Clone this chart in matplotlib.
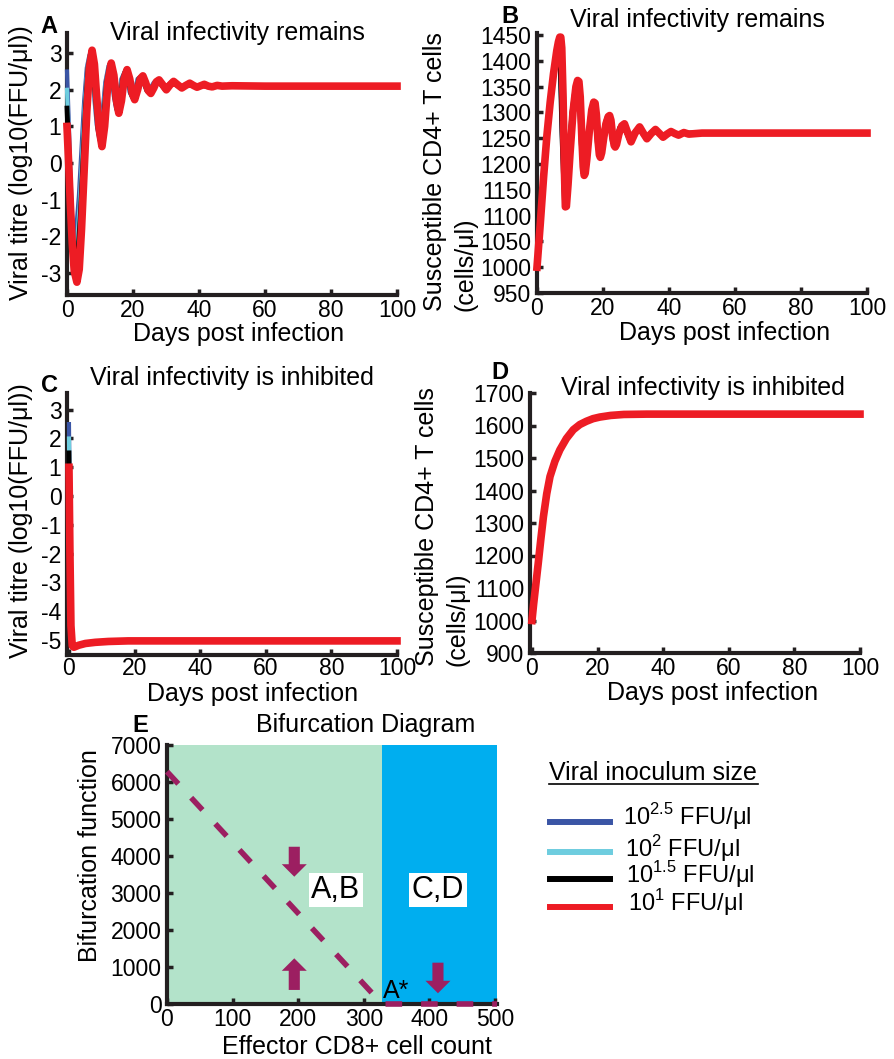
import matplotlib
matplotlib.use("Agg")
import matplotlib.pyplot as plt
from matplotlib.lines import Line2D

plt.rcParams['font.family'] = ['Liberation Sans', 'DejaVu Sans']
plt.rcParams['mathtext.fontset'] = 'custom'
plt.rcParams['mathtext.rm'] = 'Liberation Sans'
plt.rcParams['axes.unicode_minus'] = False

# ---- data ----
# panel A: viral titre, infectivity remains (log10 FFU/ul)
a_red_t = [0, 0.5, 1.0, 1.6, 2.2, 3.0, 3.7, 4.4, 5.2, 6.0, 6.8, 7.6, 8.3, 9.0, 9.8, 10.6, 11.4, 12.4,
           13.4, 14.2, 15.0, 15.7, 16.5, 17.3, 18.2, 19.0, 19.8, 20.5, 21.4, 22.2, 23.0, 23.8, 24.6,
           25.4, 26.3, 27.1, 27.9, 28.9, 30.1, 31.2, 32.3, 33.5, 34.8, 36.0, 37.2, 38.3, 39.4, 40.5,
           41.6, 42.8, 44.0, 45.5, 47, 50, 60, 100]
a_red_y = [1.0, 0.0, -1.1, -2.2, -2.95, -3.25, -2.9, -1.8, -0.2, 1.4, 2.6, 3.08, 2.7, 1.8, 0.9, 0.45,
           1.0, 2.2, 2.73, 2.4, 1.7, 1.36, 1.7, 2.3, 2.55, 2.3, 1.9, 1.73, 2.0, 2.3, 2.38, 2.2, 1.98,
           1.9, 2.05, 2.22, 2.27, 2.15, 2.0, 2.13, 2.23, 2.14, 2.05, 2.12, 2.18, 2.12, 2.07, 2.11,
           2.15, 2.1, 2.08, 2.12, 2.1, 2.11, 2.1, 2.1]
a_black_t = [0, 0.5, 1.0, 1.6, 2.2, 2.7, 3.3, 4.0, 4.8, 5.6, 6.4, 7.2, 7.9, 8.6, 9.4, 10.2, 11.0,
             12.0, 13.0, 13.8, 14.6, 15.3, 16.1, 16.9, 17.8, 18.6, 19.4, 20.1, 21.0, 21.8, 22.6,
             23.4, 24.2, 25.0, 25.9, 26.7, 27.5, 28.5, 29.7, 30.8, 31.9, 33.1, 34.4, 35.6, 36.8,
             37.9, 39.0, 40.1, 41.2, 43, 46, 60, 100]
a_black_y = [1.5, 0.4, -0.8, -2.0, -2.7, -2.85, -2.5, -1.5, 0.0, 1.5, 2.6, 3.0, 2.6, 1.8, 0.95, 0.55,
             1.1, 2.2, 2.7, 2.4, 1.75, 1.4, 1.75, 2.3, 2.53, 2.3, 1.9, 1.76, 2.0, 2.3, 2.37, 2.2,
             1.98, 1.92, 2.05, 2.2, 2.26, 2.15, 2.01, 2.13, 2.22, 2.14, 2.06, 2.12, 2.17, 2.12,
             2.08, 2.11, 2.14, 2.1, 2.11, 2.1, 2.1]
a_cyan_t = [0, 0.5, 1.0, 1.6, 2.1, 2.5, 3.1, 3.8, 4.6, 5.4, 6.2, 7.0, 7.7, 8.4, 9.2, 10.0, 10.8, 11.8,
            12.8, 13.6, 14.4, 15.1, 15.9, 16.7, 17.6, 18.4, 19.2, 19.9, 20.8, 21.6, 22.4, 23.2,
            24.0, 24.8, 25.7, 26.5, 27.3, 28.3, 29.5, 30.6, 31.7, 32.9, 34.2, 35.4, 36.6, 38, 40,
            45, 60, 100]
a_cyan_y = [2.0, 0.8, -0.5, -1.8, -2.35, -2.45, -2.1, -1.2, 0.2, 1.6, 2.6, 2.98, 2.6, 1.8, 1.0, 0.6,
            1.15, 2.2, 2.68, 2.4, 1.8, 1.45, 1.8, 2.3, 2.5, 2.3, 1.92, 1.78, 2.0, 2.3, 2.36, 2.2,
            1.99, 1.93, 2.05, 2.2, 2.25, 2.15, 2.02, 2.13, 2.21, 2.14, 2.06, 2.12, 2.17, 2.11,
            2.1, 2.11, 2.1, 2.1]
a_blue_t = [0, 0.5, 1.0, 1.5, 2.0, 2.3, 2.9, 3.6, 4.4, 5.2, 6.0, 6.8, 7.5, 8.2, 9.0, 9.8, 10.6, 11.6,
            12.6, 13.4, 14.2, 14.9, 15.7, 16.5, 17.4, 18.2, 19.0, 19.7, 20.6, 21.4, 22.2, 23.0,
            24.6, 26.3, 28.1, 30.4, 32.7, 35.2, 37.6, 40, 45, 60, 100]
a_blue_y = [2.5, 1.2, -0.2, -1.4, -1.95, -2.05, -1.7, -0.9, 0.4, 1.7, 2.6, 2.95, 2.6, 1.85, 1.05, 0.65,
            1.2, 2.2, 2.66, 2.4, 1.82, 1.48, 1.8, 2.3, 2.48, 2.3, 1.93, 1.8, 2.0, 2.3, 2.35, 2.2,
            1.94, 2.2, 2.24, 2.03, 2.21, 2.06, 2.16, 2.1, 2.11, 2.1, 2.1]

# panel B: susceptible CD4+ T cells, infectivity remains (cells/ul)
b_red_t = [0, 1, 2, 3, 4, 5, 6, 6.5, 6.9, 7.2, 7.5, 7.9, 8.3, 8.6, 8.9, 9.4, 10.0, 10.9, 11.8, 12.3,
           12.7, 13.1, 13.6, 14.0, 14.3, 14.6, 15.1, 15.8, 16.6, 17.2, 17.6, 18.0, 18.5, 18.9, 19.2,
           19.6, 20.2, 20.9, 21.6, 22.0, 22.4, 22.9, 23.4, 23.7, 24.1, 24.8, 25.7, 26.5, 27.4,
           28.5, 29.7, 31.1, 32.2, 33.3, 34.6, 35.9, 37.0, 38.2, 39.4, 40.6, 41.8, 42.9, 44.5,
           46, 50, 60, 100]
b_red_y = [1000, 1085, 1175, 1255, 1320, 1375, 1420, 1437, 1446, 1446, 1425, 1330, 1190, 1117, 1118,
           1160, 1220, 1300, 1350, 1362, 1360, 1330, 1250, 1195, 1178, 1182, 1210, 1260, 1305, 1320,
           1318, 1295, 1245, 1218, 1213, 1222, 1250, 1278, 1292, 1294, 1285, 1255, 1236, 1233,
           1238, 1258, 1274, 1278, 1262, 1243, 1260, 1272, 1260, 1249, 1259, 1267, 1260, 1252,
           1258, 1263, 1259, 1256, 1261, 1258, 1260, 1260, 1260]
b_black_t = [0, 1, 2, 3, 4, 5, 6, 6.6, 7.0, 7.6, 8.3, 8.9, 9.7, 10.6, 11.5, 12.3, 12.9, 13.4, 14.0,
             14.7, 15.5, 16.3, 17.2, 17.8, 18.3, 18.9, 19.6, 20.4, 21.1, 21.7, 22.3, 22.8, 23.4,
             24.1, 25.0, 26.2, 27.1, 28.2, 29.4, 30.8, 31.9, 33.0, 34.3, 35.6, 36.7, 37.9, 39.1,
             40.3, 42, 45, 60, 100]
b_black_y = [1000, 1090, 1180, 1260, 1322, 1372, 1405, 1418, 1400, 1250, 1130, 1150, 1225, 1300,
             1345, 1355, 1315, 1240, 1185, 1200, 1252, 1300, 1317, 1288, 1240, 1216, 1232, 1270,
             1289, 1292, 1273, 1245, 1235, 1246, 1270, 1276, 1261, 1244, 1260, 1271, 1260, 1250,
             1259, 1266, 1260, 1253, 1258, 1262, 1258, 1260, 1260, 1260]

# panel C: viral titre, infectivity inhibited
c_red_t = [0, 0.3, 0.6, 1.0, 1.5, 3, 5, 8, 12, 18, 30, 100]
c_red_y = [1.0, -2.0, -4.5, -5.2, -5.25, -5.18, -5.12, -5.08, -5.05, -5.03, -5.03, -5.03]
c_black_t = [0, 0.3, 0.6, 1.0, 1.5, 3, 5, 8, 12, 18, 30, 100]
c_black_y = [1.5, -1.7, -4.4, -5.2, -5.25, -5.18, -5.12, -5.08, -5.05, -5.03, -5.03, -5.03]
c_cyan_t = [0, 0.3, 0.6, 1.0, 1.5, 3, 5, 8, 12, 18, 30, 100]
c_cyan_y = [2.0, -1.4, -4.3, -5.2, -5.25, -5.18, -5.12, -5.08, -5.05, -5.03, -5.03, -5.03]
c_blue_t = [0, 0.3, 0.6, 1.0, 1.5, 3, 5, 8, 12, 18, 30, 100]
c_blue_y = [2.5, -1.1, -4.2, -5.2, -5.25, -5.18, -5.12, -5.08, -5.05, -5.03, -5.03, -5.03]

# panel D: susceptible CD4+ T cells, infectivity inhibited
d_t = [0, 0.5, 1, 1.9, 2.7, 3.5, 4.5, 5.5, 7, 8.5, 10.5, 12.6, 14.6, 16.6, 18.6, 20.7, 24, 28, 35, 100]
d_y = [1000, 1050, 1095, 1175, 1250, 1320, 1390, 1443, 1490, 1525, 1560, 1587, 1603, 1613, 1621,
       1626, 1631, 1634, 1635, 1635]

# panel E: bifurcation diagram
e_boundary = 327
e_xmax = 503
e_line_x = [0, 328, 503]
e_line_y = [6280, 0, 0]
e_arrows = [(194, 4250, 3440), (194, 380, 1235), (413, 1117, 290)]  # x, start, tip

series_labels = ['10$^{2.5}$ FFU/μl', '10$^{2}$ FFU/μl', '10$^{1.5}$ FFU/μl', '10$^{1}$ FFU/μl']
series_colors = ['#3a55a5', '#6ecddf', '#000000', '#ed1c24']
series_lw = [3, 3, 3.5, 5.5]
days_ticks = [0, 20, 40, 60, 80, 100]

W, H = 895, 1059


def box(l, t, r, b):
    return [l / W, 1 - b / H, (r - l) / W, (b - t) / H]


def put(x, y, s, **kw):
    fig.text(x / W, 1 - y / H, s, **kw)


def style(ax, xpad=3):
    for s in ['top', 'right']:
        ax.spines[s].set_visible(False)
    for s in ['left', 'bottom']:
        ax.spines[s].set_linewidth(3)
        ax.spines[s].set_color('#231f20')
    ax.tick_params(direction='in', length=4, width=2.5, labelsize=16.5, color='#231f20')
    ax.tick_params(axis='y', pad=4)
    ax.tick_params(axis='x', pad=xpad)


fig = plt.figure(figsize=(W / 100, H / 100), dpi=100)

# ---- A ----
axA = fig.add_axes(box(67, 33, 397, 295))
style(axA)
for t, y, c, lw in zip([a_blue_t, a_cyan_t, a_black_t, a_red_t], [a_blue_y, a_cyan_y, a_black_y, a_red_y],
                       series_colors, series_lw):
    axA.plot(t, y, color=c, lw=lw, clip_on=False, zorder=3, solid_joinstyle='round')
axA.set_xlim(0, 100)
axA.set_ylim(-3.6, 3.55)
axA.set_xticks(days_ticks)
axA.set_yticks(range(-3, 4))

# ---- B ----
axB = fig.add_axes(box(537, 33, 867, 293))
style(axB)
for t, y, c, lw in zip([b_black_t, b_black_t, b_black_t, b_red_t], [b_black_y, b_black_y, b_black_y, b_red_y],
                       series_colors, series_lw):
    axB.plot(t, y, color=c, lw=lw, clip_on=False, zorder=3, solid_joinstyle='round')
axB.set_xlim(0, 100)
axB.set_ylim(950, 1454)
axB.set_xticks(days_ticks)
axB.set_yticks(range(950, 1451, 50))

# ---- C ----
axC = fig.add_axes(box(67, 393, 397, 655))
style(axC, xpad=1.5)
for t, y, c, lw in zip([c_blue_t, c_cyan_t, c_black_t, c_red_t], [c_blue_y, c_cyan_y, c_black_y, c_red_y],
                       series_colors, series_lw):
    axC.plot(t, y, color=c, lw=lw, clip_on=False, zorder=3, solid_joinstyle='round')
axC.set_xlim(-0.6, 100)
axC.set_ylim(-5.52, 3.58)
axC.set_xticks(days_ticks)
axC.set_yticks(range(-5, 4))

# ---- D ----
axD = fig.add_axes(box(530, 393, 860, 653))
style(axD)
for c, lw in zip(series_colors, series_lw):
    axD.plot(d_t, d_y, color=c, lw=lw, clip_on=False, zorder=3)
axD.set_xlim(-0.6, 100)
axD.set_ylim(900, 1700)
axD.set_xticks(days_ticks)
axD.set_yticks(range(900, 1701, 100))

# ---- E ----
mag = '#9c1f61'
axE = fig.add_axes(box(167, 745, 497, 1004))
style(axE)
axE.axvspan(0, e_boundary, color='#b3e3ca', lw=0, zorder=0)
axE.axvspan(e_boundary, e_xmax, color='#00aeef', lw=0, zorder=0)
axE.plot(e_line_x, e_line_y, color=mag, lw=4, dashes=(3, 3.4), dash_capstyle='butt',
         clip_on=False, zorder=4)
for x, y0, y1 in e_arrows:
    axE.annotate('', xy=(x, y1), xytext=(x, y0),
                 arrowprops=dict(arrowstyle='simple,head_length=0.9,head_width=1.8,tail_width=0.8',
                                 fc=mag, ec='none', lw=0, shrinkA=0, shrinkB=0, mutation_scale=10))
axE.text(257, 3080, 'A,B', fontsize=22, ha='center', va='center',
         bbox=dict(fc='white', ec='none', boxstyle='square,pad=0.08'))
axE.text(413, 3080, 'C,D', fontsize=22, ha='center', va='center',
         bbox=dict(fc='white', ec='none', boxstyle='square,pad=0.08'))
axE.text(350, 150, 'A*', fontsize=18, ha='center', va='baseline')
axE.set_xlim(0, e_xmax)
axE.set_ylim(0, 7000)
axE.set_xticks(range(0, 501, 100))
axE.set_yticks(range(0, 7001, 1000))

# ---- text ----
fs = 18
for x, y, s in [(49, 33, 'A'), (510, 23, 'B'), (50, 392, 'C'), (500, 379, 'D'), (140, 732, 'E')]:
    put(x, y, s, fontsize=17, fontweight='bold', ha='center', va='baseline')
for x, y, s in [(237, 40, 'Viral infectivity remains'), (697, 27, 'Viral infectivity remains'),
                (232, 385, 'Viral infectivity is inhibited'), (703, 395, 'Viral infectivity is inhibited'),
                (366, 732, 'Bifurcation Diagram')]:
    put(x, y, s, fontsize=fs, ha='center', va='baseline')
for x, y, s in [(239, 341, 'Days post infection'), (725, 340, 'Days post infection'),
                (253, 701, 'Days post infection'), (713, 700, 'Days post infection'),
                (357, 1054, 'Effector CD8+ cell count')]:
    put(x, y, s, fontsize=fs, ha='center', va='baseline')
for x, y, s in [(21, 163, 'Viral titre (log10(FFU/μl))'), (21, 521, 'Viral titre (log10(FFU/μl))'),
                (450, 172, 'Susceptible CD4+ T cells\n(cells/μl)'),
                (442, 527, 'Susceptible CD4+ T cells\n(cells/μl)'),
                (90, 856, 'Bifurcation function')]:
    put(x, y, s, fontsize=fs, ha='center', va='center', rotation=90, multialignment='left',
        linespacing=1.35)

# ---- legend ----
put(549, 780, 'Viral inoculum size', fontsize=fs, ha='left', va='baseline')
fig.add_artist(Line2D([549 / W, 758 / W], [1 - 784 / H, 1 - 784 / H], color='black', lw=1.2))
for yl, yt, xt, lab, c in zip([822, 852, 879, 907], [825, 857, 883, 911], [623, 625, 626, 628],
                              series_labels, series_colors):
    fig.add_artist(Line2D([550 / W, 610 / W], [1 - yl / H, 1 - yl / H], color=c, lw=4.3))
    put(xt, yt, lab, fontsize=17, ha='left', va='baseline')

fig.savefig('out.png', dpi=100)
